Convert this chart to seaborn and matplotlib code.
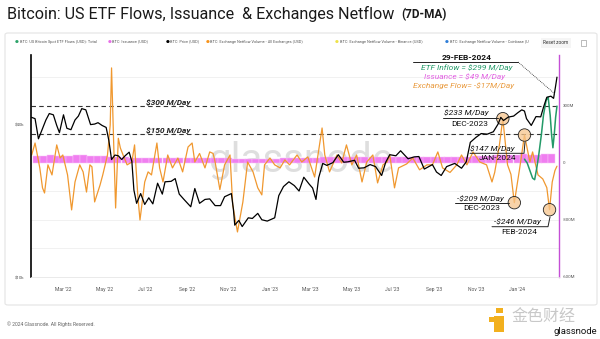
import numpy as np
import pandas as pd
import matplotlib
matplotlib.use("Agg")
import matplotlib.pyplot as plt
from matplotlib.patches import FancyBboxPatch, Rectangle
import seaborn as sns

sns.set_style("white")
plt.rcParams['font.family'] = ['Roboto', 'DejaVu Sans']

# ---------------- data ----------------
price_dates = ['2022-01-14', '2022-01-19', '2022-01-24', '2022-01-29', '2022-02-04', '2022-02-09',
               '2022-02-15', '2022-02-20', '2022-02-24', '2022-03-02', '2022-03-07', '2022-03-13',
               '2022-03-19', '2022-03-24', '2022-03-29', '2022-04-04', '2022-04-11', '2022-04-17',
               '2022-04-22', '2022-04-28', '2022-05-04', '2022-05-08', '2022-05-12', '2022-05-17',
               '2022-05-22', '2022-05-27', '2022-06-01', '2022-06-07', '2022-06-11', '2022-06-14',
               '2022-06-18', '2022-06-24', '2022-06-30', '2022-07-06', '2022-07-12', '2022-07-19',
               '2022-07-26', '2022-07-30', '2022-08-08', '2022-08-14', '2022-08-20', '2022-08-27',
               '2022-09-06', '2022-09-12', '2022-09-19', '2022-09-27', '2022-10-04', '2022-10-12',
               '2022-10-20', '2022-10-26', '2022-11-05', '2022-11-08', '2022-11-10', '2022-11-16',
               '2022-11-21', '2022-11-30', '2022-12-06', '2022-12-14', '2022-12-20', '2022-12-28',
               '2023-01-08', '2023-01-14', '2023-01-21', '2023-01-29', '2023-02-06', '2023-02-13',
               '2023-02-20', '2023-02-28', '2023-03-05', '2023-03-10', '2023-03-14', '2023-03-20',
               '2023-03-26', '2023-04-04', '2023-04-12', '2023-04-20', '2023-04-26', '2023-05-06',
               '2023-05-12', '2023-05-20', '2023-05-29', '2023-06-06', '2023-06-15', '2023-06-21',
               '2023-06-27', '2023-07-06', '2023-07-13', '2023-07-24', '2023-08-02', '2023-08-09',
               '2023-08-17', '2023-08-29', '2023-09-04', '2023-09-11', '2023-09-19', '2023-10-01',
               '2023-10-11', '2023-10-18', '2023-10-24', '2023-11-01', '2023-11-09', '2023-11-18',
               '2023-11-27', '2023-12-04', '2023-12-08', '2023-12-12', '2023-12-19', '2023-12-27',
               '2024-01-02', '2024-01-08', '2024-01-12', '2024-01-15', '2024-01-22', '2024-01-29',
               '2024-02-05', '2024-02-09', '2024-02-14', '2024-02-20', '2024-02-24', '2024-02-27',
               '2024-02-29']
price_usd = [42500, 42000, 35000, 37800, 41500, 44000,
             43500, 39500, 37000, 43500, 38500, 38000,
             41500, 43000, 46000, 45500, 39800, 40000,
             40500, 39500, 38800, 34500, 29000, 30200,
             30000, 29000, 30000, 31000, 28500, 22000,
             19500, 21300, 19300, 20500, 19400, 23400,
             21200, 23700, 23800, 24400, 21200, 20200,
             18900, 22300, 19500, 20200, 20300, 19100,
             19100, 20700, 21300, 18500, 16000, 16700,
             15800, 17100, 17000, 17800, 16800, 16600,
             17100, 20900, 22700, 23700, 22900, 21800,
             24700, 23200, 22400, 20200, 24600, 28000,
             27500, 28200, 30300, 28300, 28400, 28800,
             26800, 26900, 27700, 27200, 25100, 28300,
             30300, 30000, 31400, 29200, 29700, 29800,
             26600, 27700, 25900, 25100, 27200, 28000,
             26800, 28400, 33900, 35400, 36700, 36500,
             37300, 40000, 42500, 41300, 42600, 43000,
             44300, 45500, 45000, 42000, 39500, 42800,
             42700, 46500, 51000, 51500, 50500, 56500,
             61200]

netflow_dates = ['2022-01-14', '2022-01-19', '2022-01-26', '2022-01-30', '2022-02-02', '2022-02-07',
                 '2022-02-13', '2022-02-20', '2022-02-25', '2022-03-01', '2022-03-08', '2022-03-14',
                 '2022-03-19', '2022-03-26', '2022-03-31', '2022-04-05', '2022-04-10', '2022-04-13',
                 '2022-04-17', '2022-04-25', '2022-04-29', '2022-05-06', '2022-05-10', '2022-05-12',
                 '2022-05-15', '2022-05-18', '2022-05-22', '2022-05-25', '2022-05-29', '2022-06-04',
                 '2022-06-11', '2022-06-15', '2022-06-20', '2022-06-23', '2022-06-30', '2022-07-05',
                 '2022-07-10', '2022-07-15', '2022-07-18', '2022-07-22', '2022-07-27', '2022-08-03',
                 '2022-08-10', '2022-08-18', '2022-08-25', '2022-09-02', '2022-09-08', '2022-09-12',
                 '2022-09-19', '2022-09-27', '2022-10-04', '2022-10-09', '2022-10-12', '2022-10-19',
                 '2022-10-26', '2022-11-03', '2022-11-07', '2022-11-14', '2022-11-22', '2022-11-29',
                 '2022-12-07', '2022-12-14', '2022-12-20', '2022-12-24', '2023-01-01', '2023-01-08',
                 '2023-01-16', '2023-01-23', '2023-01-30', '2023-02-10', '2023-02-17', '2023-02-26',
                 '2023-03-08', '2023-03-19', '2023-03-23', '2023-03-30', '2023-04-10', '2023-04-17',
                 '2023-04-24', '2023-05-02', '2023-05-09', '2023-05-17', '2023-05-24', '2023-06-02',
                 '2023-06-09', '2023-06-17', '2023-06-23', '2023-06-27', '2023-07-04', '2023-07-10',
                 '2023-07-22', '2023-07-31', '2023-08-10', '2023-08-21', '2023-08-29', '2023-09-06',
                 '2023-09-13', '2023-09-24', '2023-10-04', '2023-10-11', '2023-10-19', '2023-10-28',
                 '2023-11-07', '2023-11-17', '2023-11-25', '2023-11-29', '2023-12-06', '2023-12-11',
                 '2023-12-18', '2023-12-23', '2023-12-28', '2024-01-05', '2024-01-12', '2024-01-20',
                 '2024-01-24', '2024-02-01', '2024-02-08', '2024-02-14', '2024-02-18', '2024-02-22',
                 '2024-02-26', '2024-02-29']
netflow_musd = [42, 105, -26, -131, -158, -10,
                -63, 95, 26, 42, -63, -247,
                -100, -10, -47, -153, -10, -20,
                -205, -116, -63, 42, 200, 500,
                120, -237, 130, 79, 42, -10,
                5, 95, -184, -300, -100, -47,
                -63, 42, 105, -26, -100, 42,
                -26, 26, -47, 84, 105, 5,
                50, -26, 58, 50, 5, -140,
                -10, 42, -221, -363, -205, 5,
                -47, -131, -168, -10, 26, -10,
                -26, 16, -10, 42, 5, 32,
                -74, 184, 42, -47, 42, 0,
                95, -10, 42, -100, 5, 42,
                -105, -10, 5, 42, -131, -26,
                -5, 26, -36, -10, -10, 58,
                -26, -50, -10, 42, -10, 58,
                5, -10, -100, -50, 95, 233,
                -10, -60, -209, -26, 147, 5,
                58, -63, -84, -130, -246, -100,
                -40, -17]

etf_dates = ['2024-01-12', '2024-01-16', '2024-01-20', '2024-01-24', '2024-01-27', '2024-01-30',
             '2024-02-02', '2024-02-06', '2024-02-09', '2024-02-13', '2024-02-16', '2024-02-19',
             '2024-02-21', '2024-02-23', '2024-02-25', '2024-02-27', '2024-02-29']
etf_musd = [20, 0, -40, -80, -88, -30,
            40, 150, 250, 330, 345, 250,
            150, 80, 150, 240, 299]

issuance_dates = ['2022-01-21',
                  '2022-02-01', '2022-02-11', '2022-02-21', '2022-03-01', '2022-03-11', '2022-03-21',
                  '2022-04-01', '2022-04-11', '2022-04-21', '2022-05-01', '2022-05-11', '2022-05-21',
                  '2022-06-01', '2022-06-11', '2022-06-21', '2022-07-01', '2022-07-11', '2022-07-21',
                  '2022-08-01', '2022-08-11', '2022-08-21', '2022-09-01', '2022-09-11', '2022-09-21',
                  '2022-10-01', '2022-10-11', '2022-10-21', '2022-11-01', '2022-11-11', '2022-11-21',
                  '2022-12-01', '2022-12-11', '2022-12-21', '2023-01-01', '2023-01-11', '2023-01-21',
                  '2023-02-01', '2023-02-11', '2023-02-21', '2023-03-01', '2023-03-11', '2023-03-21',
                  '2023-04-01', '2023-04-11', '2023-04-21', '2023-05-01', '2023-05-11', '2023-05-21',
                  '2023-06-01', '2023-06-11', '2023-06-21', '2023-07-01', '2023-07-11', '2023-07-21',
                  '2023-08-01', '2023-08-11', '2023-08-21', '2023-09-01', '2023-09-11', '2023-09-21',
                  '2023-10-01', '2023-10-11', '2023-10-21', '2023-11-01', '2023-11-11', '2023-11-21',
                  '2023-12-01', '2023-12-11', '2023-12-21', '2024-01-01', '2024-01-11', '2024-01-21',
                  '2024-02-01', '2024-02-11', '2024-02-21']
issuance_musd = [38,
                 37, 40, 38, 39, 37, 40,
                 42, 39, 38, 37, 32, 30,
                 30, 27, 24, 24, 25, 27,
                 27, 28, 25, 24, 25, 24,
                 24, 24, 24, 25, 22, 21,
                 22, 22, 21, 21, 23, 26,
                 27, 26, 28, 27, 25, 30,
                 31, 33, 31, 31, 30, 30,
                 30, 29, 32, 33, 33, 32,
                 32, 31, 29, 29, 29, 30,
                 30, 30, 32, 36, 38, 38,
                 40, 44, 43, 44, 45, 41,
                 43, 46, 49]

tick_dates = ['2022-03-01', '2022-05-01', '2022-07-01', '2022-09-01', '2022-11-01', '2023-01-01',
              '2023-03-01', '2023-05-01', '2023-07-01', '2023-09-01', '2023-11-01', '2024-01-01']
tick_labels = ["Mar '22", "May '22", "Jul '22", "Sep '22", "Nov '22", "Jan '23",
               "Mar '23", "May '23", "Jul '23", "Sep '23", "Nov '23", "Jan '24"]

flow_ticks = [300, 0, -300, -600]
flow_tick_labels = ['300M', '0', '-300M', '-600M']
price_ticks = [10000, 40000]
price_tick_labels = ['$10k', '$40k']

# ---------------- colours ----------------
C_ORANGE = '#f0982f'
C_GREEN = '#239a68'
C_PINK = '#f07ef0'
C_PURPLE = '#c44fd6'

W, H = 600, 339
fig = plt.figure(figsize=(W / 100, H / 100), dpi=100)
fig.patch.set_facecolor('white')

# panel frame
frame = FancyBboxPatch((5 / W, 1 - 305 / H), 592 / W, 272 / H,
                       boxstyle="round,pad=0,rounding_size=0.005",
                       transform=fig.transFigure, facecolor='none',
                       edgecolor='#e4e4e4', linewidth=0.8)
fig.patches.append(frame)

AX_L, AX_R, AX_T, AX_B = 31, 559, 55, 277
ax = fig.add_axes([AX_L / W, 1 - AX_B / H, (AX_R - AX_L) / W, (AX_B - AX_T) / H])

def axf(x, y):
    return ((x - AX_L) / (AX_R - AX_L), (AX_B - y) / (AX_B - AX_T))

nf_dt = pd.to_datetime(netflow_dates)
etf_dt = pd.to_datetime(etf_dates)
iss_dt = pd.to_datetime(issuance_dates)
pr_dt = pd.to_datetime(price_dates)

ax.set_xlim(pd.Timestamp('2022-01-13'), pd.Timestamp('2024-03-03'))
ax.set_ylim(-600, 568)

# light gridlines
for v in [450, 150, -150, -300, -450]:
    ax.axhline(v, color='#efefef', lw=0.6, zorder=0)

# watermark
ax.text(0.51, 0.525, 'glassnode', transform=ax.transAxes, ha='center', va='center',
        fontsize=29, color='#d4d4d4', alpha=0.75, zorder=0.5, family=['Roboto', 'DejaVu Sans'])

# issuance bars
ax.bar(iss_dt, issuance_musd, width=10.4, color=C_PINK, edgecolor='#f8c4f8', linewidth=0.35,
       zorder=1)

# dashed reference lines
ax.axhline(300, color='#333333', lw=0.8, ls=(0, (4, 3)), zorder=1.5)
ax.axhline(150, color='#333333', lw=0.8, ls=(0, (4, 3)), zorder=1.5)

sns.lineplot(x=nf_dt, y=netflow_musd, ax=ax, color=C_ORANGE, lw=0.9, zorder=2)
sns.lineplot(x=etf_dt, y=etf_musd, ax=ax, color=C_GREEN, lw=1.1, zorder=3)

# highlight circles on exchange netflow
circle_dates = ['2023-12-11', '2024-01-12', '2023-12-28', '2024-02-18']
nf_series = pd.Series(netflow_musd, index=nf_dt)
cd = pd.to_datetime(circle_dates)
ax.scatter(cd, nf_series.loc[cd].values, s=80, facecolor='#f6c58c', alpha=0.75,
           edgecolor='none', zorder=6)
ax.scatter(cd, nf_series.loc[cd].values, s=80, facecolor='none',
           edgecolor='#222222', linewidth=0.6, zorder=6)

ax.set_xticks(pd.to_datetime(tick_dates))
ax.set_xticklabels(tick_labels)
ax.tick_params(axis='x', length=0, labelsize=3.6, labelcolor='#555555', pad=7)
ax.set_xlabel('')
ax.set_ylabel('')
for s in ax.spines.values():
    s.set_visible(False)

# price axis on top
axp = ax.twinx()
axp.set_yscale('log')
axp.set_ylim(10000, 74800)
sns.lineplot(x=pr_dt, y=price_usd, ax=axp, color='black', lw=0.9, zorder=4)
axp.set_xlim(ax.get_xlim())
axp.yaxis.tick_left()
axp.set_yticks(price_ticks)
axp.set_yticklabels(price_tick_labels)
axp.yaxis.set_minor_locator(matplotlib.ticker.NullLocator())
axp.tick_params(axis='y', which='both', length=0, labelsize=3.2, labelcolor='#555555', pad=5)
axp.set_ylabel('')
axp.spines['top'].set_visible(False)
axp.spines['left'].set_color('black')
axp.spines['left'].set_linewidth(1.2)
axp.spines['right'].set_color(C_PURPLE)
axp.spines['right'].set_linewidth(1.0)
axp.spines['bottom'].set_color('#e6e6e6')
axp.spines['bottom'].set_linewidth(0.6)

# flow axis ticks on the right (after twinx, which resets them)
ax.yaxis.tick_right()
ax.set_yticks(flow_ticks)
ax.set_yticklabels(flow_tick_labels)
ax.tick_params(axis='y', length=0, labelsize=3.2, labelcolor='#555555', pad=3)

# ---------------- annotations ----------------
def atext(x, y, s, **kw):
    fx, fy = axf(x, y)
    axp.text(fx, fy, s, transform=axp.transAxes, ha='center', va='center', zorder=10, **kw)

def aline(pts, **kw):
    xs, ys = zip(*[axf(x, y) for x, y in pts])
    axp.plot(xs, ys, transform=axp.transAxes, clip_on=False, zorder=10, **kw)

FS = 6
atext(168, 102, '$300 M/Day', fontsize=FS, fontweight='bold', style='italic', color='#222222')
atext(168, 131, '$150 M/Day', fontsize=FS, fontweight='bold', style='italic', color='#222222')

atext(467, 57.5, '29-FEB-2024', fontsize=FS, fontweight='bold', color='#111111')
aline([(413, 62), (518, 62)], color='#222222', lw=0.7)
aline([(518, 62), (555, 94)], color='#222222', lw=0.6, ls=(0, (1, 1.2)))
atext(467, 67.5, 'ETF Inflow = $299 M/Day', fontsize=FS, style='italic', color=C_GREEN)
atext(465, 76.5, 'Issuance = $49 M/Day', fontsize=FS, style='italic', color='#e25fe2')
atext(464, 86, 'Exchange Flow= -$17M/Day', fontsize=FS, style='italic', color='#e99a3d')

atext(466, 113, '$233 M/Day', fontsize=FS, style='italic', color='#111111')
aline([(443, 118), (498, 118)], color='#222222', lw=0.7)
atext(470, 124, 'DEC-2023', fontsize=FS, color='#111111')

atext(492, 148.5, '$147 M/Day', fontsize=FS, style='italic', color='#111111')
aline([(470, 153.3), (524, 153.3), (525, 142)], color='#222222', lw=0.7)
atext(497, 158.5, 'JAN-2024', fontsize=FS, color='#111111')

atext(480, 198.5, '-$209 M/Day', fontsize=FS, style='italic', color='#111111')
aline([(455, 203.3), (509, 203.3)], color='#222222', lw=0.7)
atext(482, 208.5, 'DEC-2023', fontsize=FS, color='#111111')

atext(517, 222, '-$246 M/Day', fontsize=FS, style='italic', color='#111111')
aline([(492, 226.7), (548, 226.7), (550, 217)], color='#222222', lw=0.7)
atext(519, 232, 'FEB-2024', fontsize=FS, color='#111111')

# ---------------- figure texts ----------------
def ftext(x, y, s, **kw):
    fig.text(x / W, 1 - y / H, s, **kw)

ftext(7, 14, 'Bitcoin: US ETF Flows, Issuance  & Exchanges Netflow', fontsize=11.6,
      color='#1a1a1a', va='center', ha='left')
ftext(401, 15, '(7D-MA)', fontsize=8.5, fontweight='bold', color='#1a1a1a', va='center', ha='left')

legend_items = [
    (17, '#2ea36a', 'BTC: US Bitcoin Spot ETF Flows (USD): Total'),
    (110, '#e86ee8', 'BTC: Issuance (USD)'),
    (168, '#000000', 'BTC: Price (USD)'),
    (208, '#f7931a', 'BTC: Exchange Netflow Volume - All Exchanges (USD)'),
    (337, '#eee24a', 'BTC: Exchange Netflow Volume - Binance (USD)'),
    (447, '#2f7ed8', 'BTC: Exchange Netflow Volume - Coinbase (U'),
]
for x, c, s in legend_items:
    ftext(x, 41.5, '●', fontsize=3.2, color=c, va='center', ha='center',
          family=['DejaVu Sans'])
    ftext(x + 2.5, 41.5, s, fontsize=2.8, color='#555555', va='center', ha='left')

ftext(556, 43, 'Reset zoom', fontsize=3.4, color='#333333', va='center', ha='center',
      bbox=dict(boxstyle='square,pad=0.6', facecolor='#f5f5f5', edgecolor='none'))
fig.patches.append(Rectangle((581 / W, 1 - 46 / H), 5 / W, 6 / H, transform=fig.transFigure,
                             facecolor='none', edgecolor='#888888', lw=0.4))

ftext(7, 324, '\u00a9 2024 Glassnode. All Rights Reserved.', fontsize=3.6, color='#666666',
      va='center', ha='left')

# bottom-right logos
fig.patches.append(Rectangle((494 / W, 1 - 332 / H), 10 / W, 16 / H, transform=fig.transFigure,
                             facecolor='#f2b01e', edgecolor='none'))
fig.patches.append(Rectangle((489 / W, 1 - 322 / H), 5 / W, 5 / H, transform=fig.transFigure,
                             facecolor='#f2b01e', edgecolor='none'))
fig.patches.append(Rectangle((496 / W, 1 - 313 / H), 7 / W, 5 / H, transform=fig.transFigure,
                             facecolor='#f2b01e', edgecolor='none'))
ftext(543, 316, '金色财经', fontsize=11.5, color='#c8c8c8', va='center', ha='center',
      family=['Noto Sans CJK SC', 'DejaVu Sans'])
ftext(575, 331, 'glassnode', fontsize=6.8, color='#111111', va='center', ha='center')

fig.savefig('out.png', dpi=100, facecolor='white')
